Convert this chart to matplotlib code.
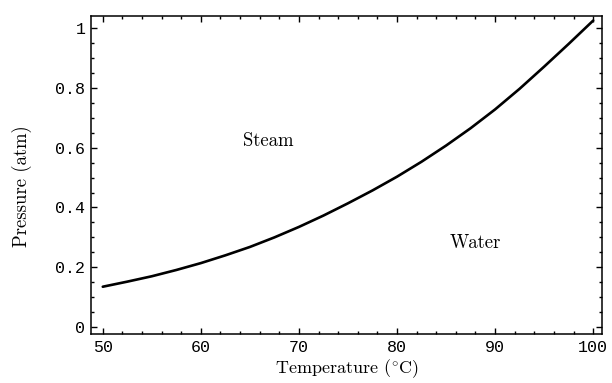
import numpy as np
import matplotlib
matplotlib.use('Agg')
from matplotlib import pyplot as plt
from matplotlib.ticker import MultipleLocator

# vapour pressure curve
temperature = [50, 52.5, 55, 57.5, 60, 62.5, 65, 67.5, 70, 72.5, 75,
               77.5, 80, 82.5, 85, 87.5, 90, 92.5, 95, 97.5, 100]
pressure = [0.135, 0.152, 0.170, 0.191, 0.214, 0.240, 0.268, 0.300, 0.335, 0.373, 0.414,
            0.457, 0.503, 0.553, 0.607, 0.665, 0.728, 0.797, 0.871, 0.947, 1.025]

xticks = [50, 60, 70, 80, 90, 100]
yticks = [0, 0.2, 0.4, 0.6, 0.8, 1]
ytick_labels = ['0', '0.2', '0.4', '0.6', '0.8', '1']

plt.rcParams['mathtext.fontset'] = 'cm'
serif = ['cmr10', 'DejaVu Serif']
mono = ['Liberation Mono', 'DejaVu Sans Mono']

fig = plt.figure(figsize=(6.12, 3.83), dpi=100, facecolor='w')
ax = fig.add_axes([0.1487, 0.128, 0.835, 0.830])

ax.plot(temperature, pressure, color='black', linewidth=1.9,
        solid_joinstyle='round', solid_capstyle='round')

ax.set_xlim(48.8, 100.9)
ax.set_ylim(-0.023, 1.04)

ax.set_xticks(xticks)
ax.set_xticklabels([str(t) for t in xticks], family=mono, fontsize=12)
ax.set_yticks(yticks)
ax.set_yticklabels(ytick_labels, family=mono, fontsize=12)
ax.xaxis.set_minor_locator(MultipleLocator(2))
ax.yaxis.set_minor_locator(MultipleLocator(0.05))

ax.tick_params(which='both', direction='in', top=True, right=True, width=1.0)
ax.tick_params(which='major', length=4.5, pad=4)
ax.tick_params(which='minor', length=2.5)
for sp in ax.spines.values():
    sp.set_linewidth(1.1)

ax.set_xlabel('Temperature ($^{\\circ}$C)', family=serif, fontsize=13)
ax.xaxis.set_label_coords(0.5, -0.072)
ax.set_ylabel('Pressure (atm)', family=serif, fontsize=13.5)
ax.yaxis.set_label_coords(-0.115, 0.465)

ax.text(66.9, 0.622, 'Steam', family=serif, fontsize=13.5, ha='center', va='center')
ax.text(88.0, 0.281, 'Water', family=serif, fontsize=13.5, ha='center', va='center')

plt.savefig('out.png', dpi=100)
